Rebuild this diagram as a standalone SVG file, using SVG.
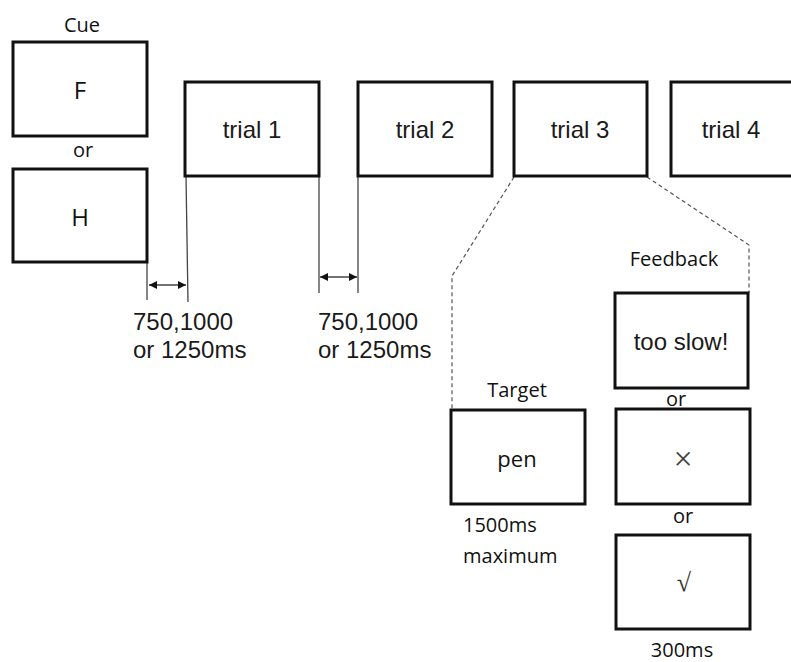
<svg xmlns="http://www.w3.org/2000/svg" width="791" height="662" viewBox="0 0 791 662">
<style>
.box{fill:#fff;stroke:#111;stroke-width:3}
.a{font-family:"Liberation Sans",Arial,sans-serif;font-size:24px;fill:#1a1a1a;text-anchor:middle}
.al{font-family:"Liberation Sans",Arial,sans-serif;font-size:24px;fill:#1a1a1a}
.c{font-family:"Open Sans","Noto Sans",sans-serif;font-size:20px;fill:#111;text-anchor:middle}
.cl{font-family:"Open Sans","Noto Sans",sans-serif;font-size:20px;fill:#111}
.thin{stroke:#444;stroke-width:1.3;fill:none}
.dash{stroke:#555;stroke-width:1.2;fill:none;stroke-dasharray:4 3}
</style>
<defs>
<marker id="ah" viewBox="0 0 10 10" refX="10" refY="5" markerWidth="8" markerHeight="8" orient="auto-start-reverse" markerUnits="userSpaceOnUse">
<path d="M0,0 L10,5 L0,10 z" fill="#111"/>
</marker>
</defs>
<rect width="791" height="662" fill="#fff"/>
<g id="connectors">
<line class="thin" x1="147" y1="262" x2="147" y2="300"/>
<line class="thin" x1="186" y1="176" x2="188" y2="302"/>
<line class="thin" x1="149" y1="285" x2="186" y2="285" marker-start="url(#ah)" marker-end="url(#ah)"/>
<line class="thin" x1="319" y1="176" x2="319" y2="293"/>
<line class="thin" x1="358" y1="176" x2="358" y2="293"/>
<line class="thin" x1="320" y1="277" x2="357" y2="277" marker-start="url(#ah)" marker-end="url(#ah)"/>
<polyline class="dash" points="514,177 452,276 452,409"/>
<polyline class="dash" points="647,177 749,245 749,293"/>
</g>
<g id="cue">
<text class="c" x="82" y="32">Cue</text>
<rect class="box" x="13" y="42" width="134" height="94"/>
<text class="c" x="80" y="99" style="font-size:24px">F</text>
<text class="c" x="83" y="157">or</text>
<rect class="box" x="13" y="169" width="134" height="93"/>
<text class="c" x="80" y="226" style="font-size:24px">H</text>
</g>
<g id="trial1">
<rect class="box" x="185" y="82" width="134" height="94"/>
<text class="a" x="252" y="138">trial 1</text>
</g>
<g id="trial2">
<rect class="box" x="358" y="82" width="134" height="94"/>
<text class="a" x="425" y="138">trial 2</text>
</g>
<g id="trial3">
<rect class="box" x="514" y="82" width="133" height="94"/>
<text class="a" x="580" y="138">trial 3</text>
</g>
<g id="trial4">
<rect class="box" x="671" y="82" width="135" height="94"/>
<text class="a" x="731" y="138">trial 4</text>
</g>
<g id="isi1">
<text class="al" x="133" y="330">750,1000</text>
<text class="al" x="133" y="358">or 1250ms</text>
</g>
<g id="isi2">
<text class="al" x="318" y="330">750,1000</text>
<text class="al" x="318" y="358">or 1250ms</text>
</g>
<g id="target">
<text class="c" x="517" y="397">Target</text>
<rect class="box" x="451" y="410" width="134" height="94"/>
<text class="c" x="517" y="467" style="font-size:22px">pen</text>
<text class="cl" x="463" y="532">1500ms</text>
<text class="cl" x="463" y="563">maximum</text>
</g>
<g id="feedback">
<text class="c" x="674" y="266">Feedback</text>
<rect class="box" x="615" y="293" width="133" height="95"/>
<text class="a" x="681" y="350">too slow!</text>
<text class="c" x="676" y="406">or</text>
<rect class="box" x="616" y="409" width="134" height="95"/>
<text class="a" x="683" y="470" style="font-family:'Liberation Serif',serif;font-size:34px;fill:#444">×</text>
<text class="c" x="683" y="523">or</text>
<rect class="box" x="616" y="535" width="134" height="94"/>
<text class="a" x="684" y="591" style="font-family:'Liberation Serif',serif;font-size:26px;fill:#333">√</text>
<text class="c" x="682" y="657">300ms</text>
</g>
</svg>
